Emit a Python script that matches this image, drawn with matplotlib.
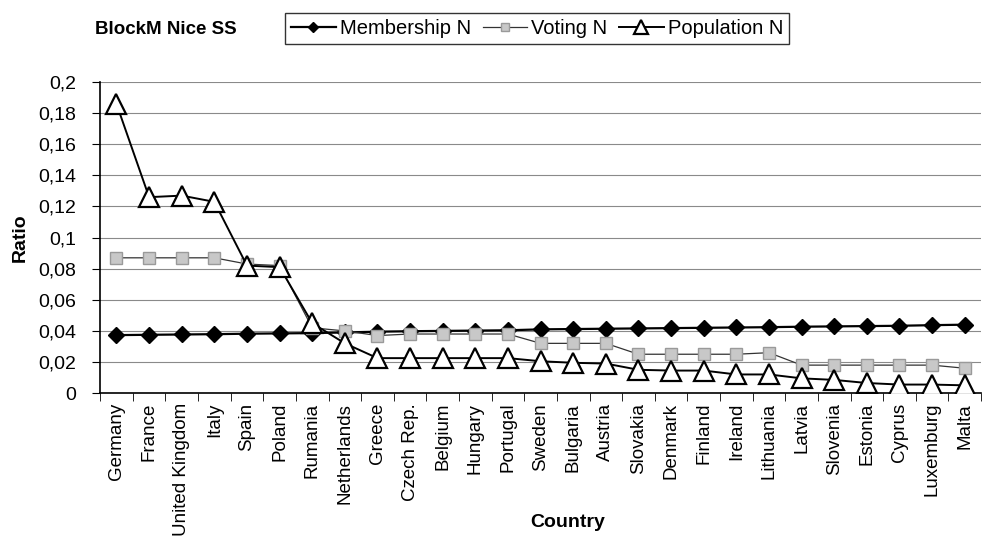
import matplotlib
matplotlib.use('Agg')
import matplotlib.pyplot as plt
import numpy as np

plt.rcParams['font.family'] = ['Liberation Sans', 'DejaVu Sans']

countries = ['Germany', 'France', 'United Kingdom', 'Italy', 'Spain', 'Poland',
             'Rumania', 'Netherlands', 'Greece', 'Czech Rep.', 'Belgium', 'Hungary',
             'Portugal', 'Sweden', 'Bulgaria', 'Austria', 'Slovakia', 'Denmark',
             'Finland', 'Ireland', 'Lithuania', 'Latvia', 'Slovenia', 'Estonia',
             'Cyprus', 'Luxemburg', 'Malta']

membership = [0.0373, 0.0375, 0.0377, 0.0379, 0.0382, 0.0384, 0.0386, 0.0390,
              0.0395, 0.0398, 0.0400, 0.0402, 0.0404, 0.0410, 0.0412, 0.0414,
              0.0416, 0.0418, 0.0420, 0.0422, 0.0424, 0.0427, 0.0429, 0.0431,
              0.0433, 0.0437, 0.0440]

voting = [0.087, 0.087, 0.087, 0.087, 0.083, 0.082, 0.042, 0.040,
          0.037, 0.038, 0.038, 0.038, 0.038, 0.032, 0.032, 0.032,
          0.025, 0.025, 0.025, 0.025, 0.026, 0.018, 0.018, 0.018,
          0.018, 0.018, 0.016]

population = [0.186, 0.126, 0.127, 0.123, 0.082, 0.081, 0.045, 0.032,
              0.0225, 0.0225, 0.0225, 0.0225, 0.0225, 0.0205, 0.0195, 0.019,
              0.015, 0.0145, 0.0145, 0.012, 0.012, 0.0095, 0.0085, 0.0065,
              0.0055, 0.0055, 0.005]

yticks = [0, 0.02, 0.04, 0.06, 0.08, 0.1, 0.12, 0.14, 0.16, 0.18, 0.2]
ytick_labels = ['0', '0,02', '0,04', '0,06', '0,08', '0,1', '0,12', '0,14',
                '0,16', '0,18', '0,2']

fig = plt.figure(figsize=(9.82, 5.40), dpi=100)
ax = fig.add_axes([0.102, 0.272, 0.897, 0.576])

x = np.arange(len(countries))

ax.plot(x, membership, color='black', lw=1.6, marker='D', ms=8,
        mfc='black', mec='black', label='Membership N', zorder=3)
ax.plot(x, voting, color='#333333', lw=0.9, marker='s', ms=9,
        mfc='#c8c8c8', mec='#9a9a9a', label='Voting N', zorder=4)
ax.plot(x, population, color='black', lw=1.4, marker='^', ms=15,
        mfc='white', mec='black', mew=1.6, label='Population N', zorder=5)

ax.set_xlim(-0.5, len(countries) - 0.5)
ax.set_ylim(0, 0.2)
ax.set_yticks(yticks)
ax.set_yticklabels(ytick_labels, fontsize=14)
ax.yaxis.grid(True, color='#8a8a8a', lw=0.8)
ax.set_axisbelow(True)

ax.set_xticks(x)
ax.set_xticklabels(countries, rotation=90, fontsize=13.5)
ax.tick_params(axis='x', length=0, pad=7)
ax.set_xticks(np.arange(-0.5, len(countries)), minor=True)
ax.tick_params(axis='x', which='minor', length=6, direction='out', color='black')
ax.tick_params(axis='y', length=6, direction='out', pad=11)

for s in ['top', 'right']:
    ax.spines[s].set_visible(False)
ax.spines['left'].set_linewidth(1.2)
ax.spines['bottom'].set_linewidth(1.2)

ax.set_ylabel('Ratio', fontsize=14, fontweight='bold')
ax.yaxis.set_label_coords(-0.081, 0.5)

fig.text(0.578, 0.033, 'Country', fontsize=14, fontweight='bold',
         ha='center', va='center')

fig.text(0.097, 0.945, 'BlockM Nice SS', fontsize=13.5, fontweight='bold',
         va='center', ha='left')

leg = fig.legend(loc='center', bbox_to_anchor=(0.547, 0.948), ncol=3,
                 fontsize=14.5, frameon=True, fancybox=False, edgecolor='black',
                 handlelength=2.2, handletextpad=0.2, columnspacing=0.6,
                 borderpad=0.3, markerscale=0.7)
leg.get_frame().set_linewidth(1.0)

fig.savefig('out.png', dpi=100)
